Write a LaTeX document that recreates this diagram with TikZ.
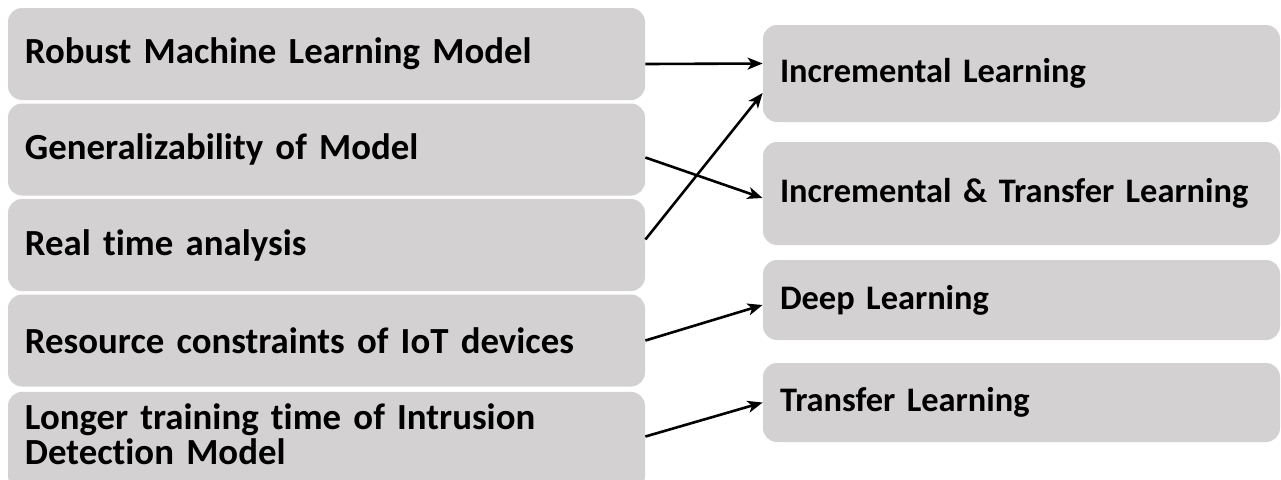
\documentclass[tikz,border=0pt]{standalone}
\usepackage{fontspec}
\setmainfont{Carlito}[Ligatures=NoCommon]
\usepackage{tikz}
\usetikzlibrary{arrows,arrows.meta,shapes,positioning}
\usepackage{xcolor}
\definecolor{boxgray}{RGB}{211,209,210}
\tikzstyle{arrow} = [line width=1.3pt,->,>={Stealth[length=7.5pt,width=6pt,inset=2pt]},color=black]
\tikzstyle{challenge} = [rectangle, rounded corners=7pt, minimum width=318.5pt, minimum height=46pt, inner xsep=8.5pt, text width=301.5pt, align=left, fill=boxgray, font=\bfseries\fontsize{18.4}{17.5}\selectfont]
\tikzstyle{solution} = [rectangle, rounded corners=7pt, minimum width=258.5pt, inner xsep=8.5pt, text width=241.5pt, align=left, fill=boxgray, font=\bfseries\fontsize{17.2}{18}\selectfont]

\begin{document}
\begin{tikzpicture}[x=0.5pt, y=-0.5pt]
\useasboundingbox (0,0) rectangle (1281,479);
\clip (0,0) rectangle (1281,479);
% Challenges
\node (robust) [challenge] at (326.5,54) {Robust Machine Learning Model};
\node (gen) [challenge, below of=robust, node distance=47.75pt] {Generalizability of Model};
\node (real) [challenge, below of=gen, node distance=47.75pt] {Real time analysis};
\node (res) [challenge, below of=real, node distance=47.75pt] {Resource constraints of IoT devices};
\node (longer) [challenge, below of=res, node distance=25.5pt, anchor=north, minimum height=0pt, inner ysep=6pt, text depth=24pt] {Longer training time of Intrusion\\Detection Model};

% Solutions
\node (incr) [solution, minimum height=48.5pt] at (1021.5,73.5) {Incremental Learning};
\node (incrtl) [solution, minimum height=51.5pt, below of=incr, node distance=60pt] {Incremental \& Transfer Learning};
\node (deep) [solution, minimum height=40pt, below of=incrtl, node distance=53.25pt] {Deep Learning};
\node (tl) [solution, minimum height=39.5pt, below of=deep, node distance=51.25pt] {Transfer Learning};

% Mapping
\draw[arrow] ([yshift=-5pt]robust.east) -- ([yshift=5pt]incr.west);
\draw[arrow] ([yshift=-4pt]gen.east) -- ([yshift=-2.25pt]incrtl.west);
\draw[arrow] ([yshift=2.75pt]real.east) -- ([yshift=-9.75pt]incr.west);
\draw[arrow] (res.east) -- ([yshift=-2.5pt]deep.west);
\draw[arrow] ([yshift=-22.5pt]longer.north east) -- (tl.west);
\end{tikzpicture}
\end{document}
